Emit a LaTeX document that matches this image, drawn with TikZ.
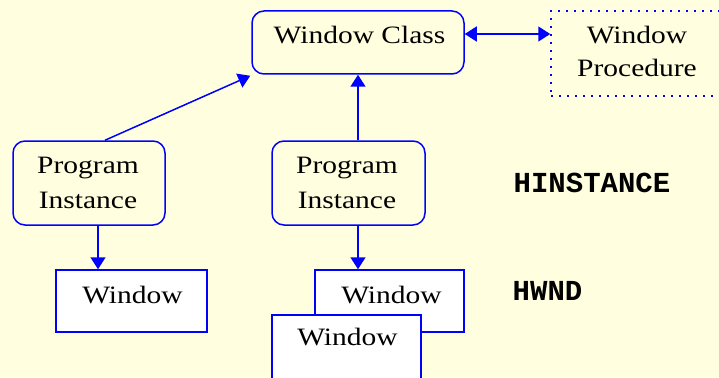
\documentclass[tikz,border=0pt]{standalone}
\usepackage{fontspec}
\setmainfont{Liberation Serif}[FakeStretch=1.18]
\setmonofont{Liberation Mono}
\usetikzlibrary{arrows.meta,calc}
\definecolor{bg}{HTML}{FFFFE0}
\begin{document}
\begin{tikzpicture}[x=1pt,y=-1pt,
  conn/.style={draw=blue, line width=1.5pt, -{Triangle[width=15pt,length=12pt]}},
  dconn/.style={draw=blue, line width=1.5pt, {Triangle[width=15pt,length=12pt]}-{Triangle[width=15pt,length=12pt]}},
  rbox/.style={draw=blue, line width=1.5pt, rounded corners=12pt, fill=bg, inner sep=0pt},
  dbox/.style={draw=blue, line width=1.5pt, dash pattern=on 2pt off 6pt, fill=bg, inner sep=0pt},
  wbox/.style={draw=blue, line width=1.5pt, fill=white, inner sep=0pt},
  txt/.style={anchor=base, inner sep=0pt, font=\fontsize{25}{30}\selectfont},
  lbl/.style={anchor=base, inner sep=0pt, font=\fontsize{29}{30}\selectfont\ttfamily\bfseries}]
\fill[bg] (0,0) rectangle (719,377);
\useasboundingbox (0,0) rectangle (719,377);
% boxes
\node[rbox, minimum width=212pt, minimum height=63pt] (wc) at (358,42.5) {};
\node[dbox, minimum width=178pt, minimum height=85pt] (wp) at (640,53.5) {};
\node[rbox, minimum width=152pt, minimum height=84pt] (pil) at (89,183) {};
\node[rbox, minimum width=153pt, minimum height=84pt] (pir) at (348.5,183) {};
\node[wbox, minimum width=151pt, minimum height=62pt] (wl) at (131.5,301) {};
\node[wbox, minimum width=149pt, minimum height=62pt] (wb) at (389.5,301) {};
\node[wbox, minimum width=149pt, minimum height=72pt] (wf) at (346.5,351) {};
% texts
\node[txt] (t1) at (359.5,44) {Window Class};
\node[txt] (t2) at (637,44) {Window};
\node[txt] (t3) at (637,77) {Procedure};
\node[txt] (t4) at (88,173) {Program};
\node[txt] (t5) at (88,208) {Instance};
\node[txt] (t6) at (347,173) {Program};
\node[txt] (t7) at (347,208) {Instance};
\node[txt] (t8) at (132.5,303) {Window};
\node[txt] (t9) at (391.5,303) {Window};
\node[txt] (t10) at (347.5,345) {Window};
\node[lbl] (h1) at (592,192) {HINSTANCE};
\node[lbl] (h2) at (547.5,300) {HWND};
% connectors
\coordinate (ay) at (0,34);
\coordinate (lx) at (98,0);
\draw[dconn] (wc.east |- ay) -- (wp.west |- ay);
\draw[conn] ($(pil.north)+(16,0)$) -- ($(wc.south west)+(-1,1)$);
\draw[conn] (wc.south |- pir.north) -- (wc.south);
\draw[conn] (lx |- pil.south) -- (lx |- wl.north);
\draw[conn] (wc.south |- pir.south) -- (wc.south |- wb.north);
\end{tikzpicture}
\end{document}
